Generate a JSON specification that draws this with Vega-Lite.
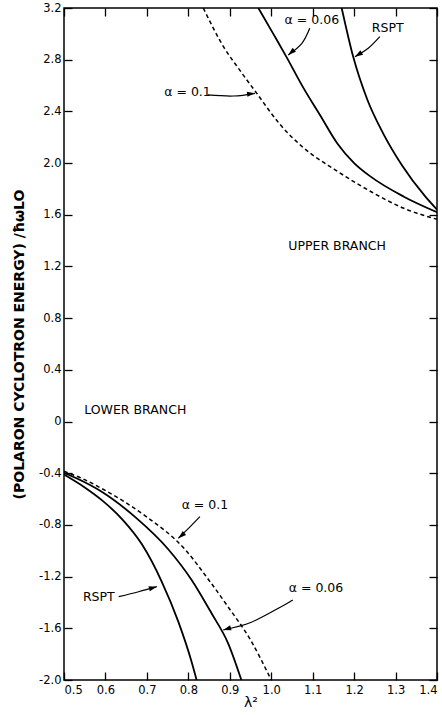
{
  "$schema": "https://vega.github.io/schema/vega-lite/v6.json",
  "width": 373,
  "height": 672,
  "autosize": {"type": "none"},
  "padding": {"left": 64, "top": 8, "right": 5, "bottom": 35},
  "background": "white",
  "config": {
    "view": {"stroke": "black", "strokeWidth": 1.5},
    "font": "DejaVu Sans",
    "axis": {
      "grid": false,
      "domain": false,
      "tickColor": "black",
      "tickWidth": 1.3,
      "tickSize": -8,
      "labelColor": "black",
      "labelFont": "DejaVu Sans",
      "labelFontSize": 11.5,
      "titleColor": "black",
      "titleFont": "DejaVu Sans"
    }
  },
  "datasets": {
    "curves": [
      {"curve": "RSPT upper", "style": "solid", "x": 1.170, "y": 3.2},
      {"curve": "RSPT upper", "style": "solid", "x": 1.198, "y": 2.82},
      {"curve": "RSPT upper", "style": "solid", "x": 1.232, "y": 2.49},
      {"curve": "RSPT upper", "style": "solid", "x": 1.270, "y": 2.23},
      {"curve": "RSPT upper", "style": "solid", "x": 1.315, "y": 1.985},
      {"curve": "RSPT upper", "style": "solid", "x": 1.372, "y": 1.74},
      {"curve": "RSPT upper", "style": "solid", "x": 1.400, "y": 1.64},
      {"curve": "a006 upper", "style": "solid", "x": 0.969, "y": 3.2},
      {"curve": "a006 upper", "style": "solid", "x": 1.005, "y": 3.0},
      {"curve": "a006 upper", "style": "solid", "x": 1.037, "y": 2.82},
      {"curve": "a006 upper", "style": "solid", "x": 1.078, "y": 2.58},
      {"curve": "a006 upper", "style": "solid", "x": 1.118, "y": 2.37},
      {"curve": "a006 upper", "style": "solid", "x": 1.160, "y": 2.15},
      {"curve": "a006 upper", "style": "solid", "x": 1.200, "y": 2.0},
      {"curve": "a006 upper", "style": "solid", "x": 1.240, "y": 1.895},
      {"curve": "a006 upper", "style": "solid", "x": 1.320, "y": 1.74},
      {"curve": "a006 upper", "style": "solid", "x": 1.400, "y": 1.62},
      {"curve": "a01 upper", "style": "dashed", "x": 0.836, "y": 3.2},
      {"curve": "a01 upper", "style": "dashed", "x": 0.885, "y": 2.9},
      {"curve": "a01 upper", "style": "dashed", "x": 0.925, "y": 2.715},
      {"curve": "a01 upper", "style": "dashed", "x": 0.965, "y": 2.54},
      {"curve": "a01 upper", "style": "dashed", "x": 1.021, "y": 2.30},
      {"curve": "a01 upper", "style": "dashed", "x": 1.075, "y": 2.126},
      {"curve": "a01 upper", "style": "dashed", "x": 1.155, "y": 1.946},
      {"curve": "a01 upper", "style": "dashed", "x": 1.240, "y": 1.78},
      {"curve": "a01 upper", "style": "dashed", "x": 1.320, "y": 1.65},
      {"curve": "a01 upper", "style": "dashed", "x": 1.400, "y": 1.565},
      {"curve": "RSPT lower", "style": "solid", "x": 0.500, "y": -0.41},
      {"curve": "RSPT lower", "style": "solid", "x": 0.550, "y": -0.51},
      {"curve": "RSPT lower", "style": "solid", "x": 0.592, "y": -0.61},
      {"curve": "RSPT lower", "style": "solid", "x": 0.640, "y": -0.755},
      {"curve": "RSPT lower", "style": "solid", "x": 0.688, "y": -0.95},
      {"curve": "RSPT lower", "style": "solid", "x": 0.736, "y": -1.24},
      {"curve": "RSPT lower", "style": "solid", "x": 0.776, "y": -1.55},
      {"curve": "RSPT lower", "style": "solid", "x": 0.808, "y": -1.86},
      {"curve": "RSPT lower", "style": "solid", "x": 0.820, "y": -2.0},
      {"curve": "a006 lower", "style": "solid", "x": 0.500, "y": -0.397},
      {"curve": "a006 lower", "style": "solid", "x": 0.550, "y": -0.47},
      {"curve": "a006 lower", "style": "solid", "x": 0.592, "y": -0.545},
      {"curve": "a006 lower", "style": "solid", "x": 0.672, "y": -0.74},
      {"curve": "a006 lower", "style": "solid", "x": 0.752, "y": -0.99},
      {"curve": "a006 lower", "style": "solid", "x": 0.808, "y": -1.226},
      {"curve": "a006 lower", "style": "solid", "x": 0.856, "y": -1.484},
      {"curve": "a006 lower", "style": "solid", "x": 0.896, "y": -1.716},
      {"curve": "a006 lower", "style": "solid", "x": 0.928, "y": -2.0},
      {"curve": "a01 lower", "style": "dashed", "x": 0.500, "y": -0.385},
      {"curve": "a01 lower", "style": "dashed", "x": 0.550, "y": -0.45},
      {"curve": "a01 lower", "style": "dashed", "x": 0.592, "y": -0.52},
      {"curve": "a01 lower", "style": "dashed", "x": 0.696, "y": -0.73},
      {"curve": "a01 lower", "style": "dashed", "x": 0.792, "y": -0.99},
      {"curve": "a01 lower", "style": "dashed", "x": 0.848, "y": -1.22},
      {"curve": "a01 lower", "style": "dashed", "x": 0.895, "y": -1.43},
      {"curve": "a01 lower", "style": "dashed", "x": 0.950, "y": -1.69},
      {"curve": "a01 lower", "style": "dashed", "x": 1.000, "y": -2.0}
    ],
    "arrows": [
      {"arrow": "A1", "i": 0, "x": 1.093, "y": 3.043},
      {"arrow": "A1", "i": 1, "x": 1.074, "y": 2.927},
      {"arrow": "A1", "i": 2, "x": 1.041, "y": 2.836},
      {"arrow": "A2", "i": 0, "x": 1.262, "y": 2.978},
      {"arrow": "A2", "i": 1, "x": 1.234, "y": 2.888},
      {"arrow": "A2", "i": 2, "x": 1.202, "y": 2.823},
      {"arrow": "A3", "i": 0, "x": 0.847, "y": 2.527},
      {"arrow": "A3", "i": 1, "x": 0.909, "y": 2.519},
      {"arrow": "A3", "i": 2, "x": 0.961, "y": 2.540},
      {"arrow": "A4", "i": 0, "x": 0.828, "y": -0.736},
      {"arrow": "A4", "i": 1, "x": 0.804, "y": -0.815},
      {"arrow": "A4", "i": 2, "x": 0.776, "y": -0.903},
      {"arrow": "A5", "i": 0, "x": 0.632, "y": -1.355},
      {"arrow": "A5", "i": 1, "x": 0.680, "y": -1.317},
      {"arrow": "A5", "i": 2, "x": 0.724, "y": -1.278},
      {"arrow": "A6", "i": 0, "x": 1.052, "y": -1.381},
      {"arrow": "A6", "i": 1, "x": 1.024, "y": -1.433},
      {"arrow": "A6", "i": 2, "x": 0.952, "y": -1.553},
      {"arrow": "A6", "i": 3, "x": 0.884, "y": -1.613}
    ],
    "heads": [
      {"arrow": "A1", "x": 1.041, "y": 2.836, "angle": 229},
      {"arrow": "A2", "x": 1.202, "y": 2.823, "angle": 238},
      {"arrow": "A3", "x": 0.961, "y": 2.540, "angle": 83},
      {"arrow": "A4", "x": 0.776, "y": -0.903, "angle": 229},
      {"arrow": "A5", "x": 0.724, "y": -1.278, "angle": 75},
      {"arrow": "A6", "x": 0.884, "y": -1.613, "angle": 254}
    ],
    "labels": [
      {"text": "α = 0.06", "x": 1.098, "y": 3.107},
      {"text": "RSPT", "x": 1.281, "y": 3.043},
      {"text": "α = 0.1", "x": 0.798, "y": 2.552},
      {"text": "UPPER BRANCH", "x": 1.159, "y": 1.358},
      {"text": "LOWER BRANCH", "x": 0.672, "y": 0.089},
      {"text": "α = 0.1", "x": 0.840, "y": -0.645},
      {"text": "RSPT", "x": 0.584, "y": -1.355},
      {"text": "α = 0.06", "x": 1.108, "y": -1.29}
    ]
  },
  "layer": [
    {
      "data": {"name": "curves"},
      "transform": [{"filter": "datum.style == 'solid'"}],
      "mark": {"type": "line", "interpolate": "monotone", "color": "black", "strokeWidth": 1.8, "clip": true},
      "encoding": {
        "x": {
          "field": "x", "type": "quantitative",
          "scale": {"domain": [0.5, 1.4], "nice": false, "zero": false},
          "axis": {
            "orient": "bottom",
            "values": [0.5, 0.6, 0.7, 0.8, 0.9, 1.0, 1.1, 1.2, 1.3, 1.4],
            "labelExpr": "format(datum.value, '.1f')",
            "labelPadding": 12,
            "title": "λ²",
            "titleFontSize": 14,
            "titleFontWeight": "normal",
            "titlePadding": 0
          }
        },
        "y": {
          "field": "y", "type": "quantitative",
          "scale": {"domain": [-2.0, 3.2], "nice": false, "zero": false},
          "axis": {
            "orient": "left",
            "values": [-2.0, -1.6, -1.2, -0.8, -0.4, 0, 0.4, 0.8, 1.2, 1.6, 2.0, 2.4, 2.8, 3.2],
            "labelExpr": "datum.value == 0 ? '0' : (datum.value < 0 ? '-' + format(-datum.value, '.1f') : format(datum.value, '.1f'))",
            "labelPadding": 11,
            "title": "(POLARON CYCLOTRON ENERGY) /ħωLO",
            "titleFontSize": 14,
            "titleFontWeight": "bold",
            "titlePadding": 12
          }
        },
        "detail": {"field": "curve"}
      }
    },
    {
      "data": {"name": "curves"},
      "transform": [{"filter": "datum.style == 'dashed'"}],
      "mark": {"type": "line", "interpolate": "monotone", "color": "black", "strokeWidth": 1.5, "strokeDash": [4, 3], "clip": true},
      "encoding": {
        "x": {
          "field": "x", "type": "quantitative",
          "axis": {"orient": "top", "values": [0.5, 0.6, 0.7, 0.8, 0.9, 1.0, 1.1, 1.2, 1.3, 1.4], "labels": false, "title": null}
        },
        "y": {
          "field": "y", "type": "quantitative",
          "axis": {"orient": "right", "values": [-2.0, -1.6, -1.2, -0.8, -0.4, 0, 0.4, 0.8, 1.2, 1.6, 2.0, 2.4, 2.8, 3.2], "labels": false, "title": null}
        },
        "detail": {"field": "curve"}
      }
    },
    {
      "data": {"name": "arrows"},
      "mark": {"type": "line", "interpolate": "cardinal", "color": "black", "strokeWidth": 1.2},
      "encoding": {
        "x": {"field": "x", "type": "quantitative", "axis": null},
        "y": {"field": "y", "type": "quantitative", "axis": null},
        "detail": {"field": "arrow"},
        "order": {"field": "i"}
      }
    },
    {
      "data": {"name": "heads"},
      "mark": {"type": "point", "shape": "M0,0L-0.32,1L0.32,1Z", "filled": true, "color": "black", "opacity": 1, "size": 256},
      "encoding": {
        "x": {"field": "x", "type": "quantitative", "axis": null},
        "y": {"field": "y", "type": "quantitative", "axis": null},
        "angle": {"field": "angle", "type": "quantitative", "scale": null}
      }
    },
    {
      "data": {"name": "labels"},
      "mark": {"type": "text", "font": "DejaVu Sans", "fontSize": 12.5, "color": "black", "align": "center", "baseline": "middle"},
      "encoding": {
        "x": {"field": "x", "type": "quantitative", "axis": null},
        "y": {"field": "y", "type": "quantitative", "axis": null},
        "text": {"field": "text"}
      }
    }
  ],
  "resolve": {"axis": {"x": "independent", "y": "independent"}}
}
